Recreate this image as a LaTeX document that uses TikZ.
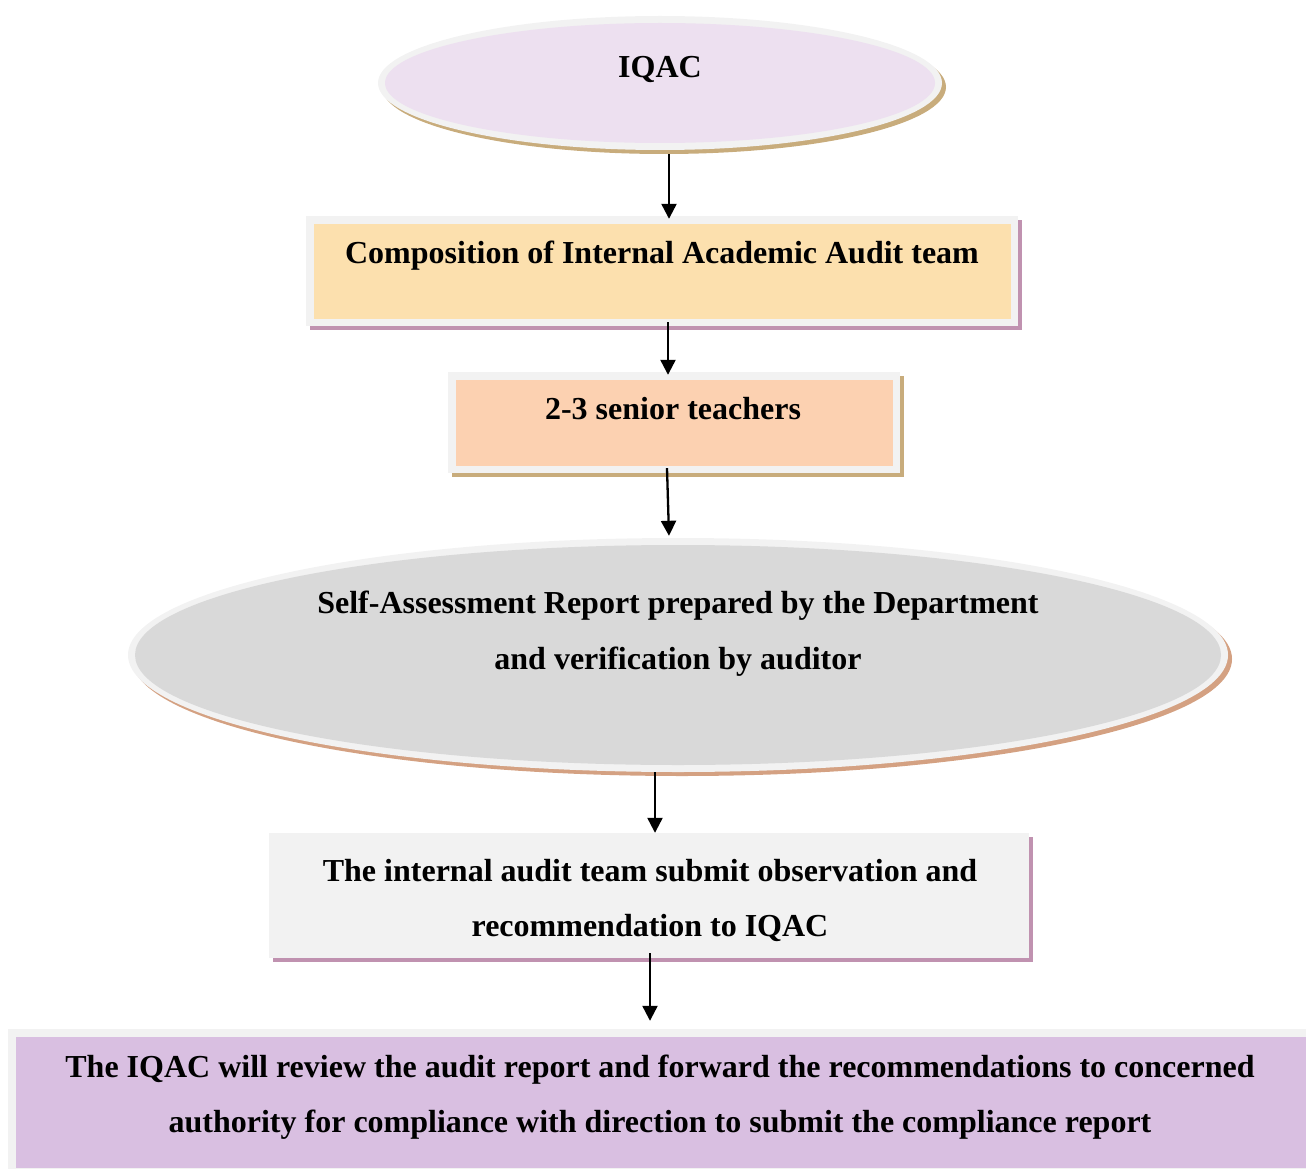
\documentclass[tikz,border=0pt]{standalone}
\usepackage{fontspec}
\setmainfont{Liberation Serif}
\usetikzlibrary{shapes.geometric,shadows,arrows.meta,calc}

\definecolor{rimgray}{HTML}{F2F2F2}
\definecolor{lilacfill}{HTML}{EDE0F0}
\definecolor{wheatfill}{HTML}{FCE0AE}
\definecolor{peachfill}{HTML}{FCD1B1}
\definecolor{greyfill}{HTML}{D9D9D9}
\definecolor{lavfill}{HTML}{D9BFE1}
\definecolor{tanshade}{HTML}{C8AC7C}
\definecolor{mauveshade}{HTML}{C092B0}
\definecolor{clayshade}{HTML}{D4A182}

\tikzset{
  shade under/.style={drop shadow={shadow xshift=4pt, shadow yshift=-4pt, fill=#1, opacity=1}},
  rimbox/.style 2 args={rectangle, draw=none, fill=rimgray, inner sep=0pt, shade under=#2,
    path picture={\fill[#1] ([shift={(7.5pt,-7.5pt)}]path picture bounding box.north west)
      rectangle ([shift={(-7.5pt,7.5pt)}]path picture bounding box.south east);}},
  rimoval/.style 2 args={ellipse, draw=none, fill=rimgray, inner sep=0pt, shade under=#2,
    path picture={\fill[#1] let \p1=($(path picture bounding box.north east)-(path picture bounding box.center)$)
      in (path picture bounding box.center) ellipse [x radius=\x1-7pt, y radius=\y1-7pt];}},
  caption/.style={font=\bfseries\fontsize{32}{55}\selectfont, anchor=base, inner sep=0pt},
  flow/.style={-{Triangle[length=15pt,width=15pt]}, line width=2.3pt, black}
}

\begin{document}
\begin{tikzpicture}[x=1pt,y=1pt]
  \useasboundingbox (0,0) rectangle (1306,-1169);
  \clip (0,0) rectangle (1306,-1169);

  % stages of the audit process
  \node[rimoval={lilacfill}{tanshade}, minimum width=564pt, minimum height=134pt] (iqac) at (660,-83) {};
  \node[rimbox={wheatfill}{mauveshade}, minimum width=712pt, minimum height=110pt] (comp) at (662,-271) {};
  \node[rimbox={peachfill}{tanshade}, minimum width=452pt, minimum height=101pt] (senior) at (674,-422.5) {};
  \node[rimoval={greyfill}{clayshade}, minimum width=1100pt, minimum height=234pt] (sar) at (678,-655) {};
  \node[rimbox={rimgray}{mauveshade}, minimum width=760pt, minimum height=125pt] (team) at (649,-895.5) {};
  \node[rimbox={lavfill}{rimgray}, minimum width=1306pt, minimum height=146pt] (review) at (661,-1102) {};

  % texts
  \node[caption] (iqac-t) at (660,-77.5) {IQAC};
  \node[caption] (comp-t) at (662,-263.5) {Composition of Internal Academic Audit team};
  \node[caption] (senior-t) at (673,-419.5) {2-3 senior teachers};
  \node[caption] (sar-t1) at (678,-613.5) {Self-Assessment Report prepared by the Department};
  \node[caption] (sar-t2) at (678,-669.5) {and verification by auditor};
  \node[caption] (team-t1) at (650,-881.5) {The internal audit team submit observation and};
  \node[caption] (team-t2) at (650,-936.5) {recommendation to IQAC};
  \node[caption] (review-t1) at (660,-1077.5) {The IQAC will review the audit report and forward the recommendations to concerned};
  \node[caption] (review-t2) at (660,-1132.5) {authority for compliance with direction to submit the compliance report};

  % connectors
  \draw[flow] ([xshift=9pt,yshift=-4pt]iqac.south) -- ([xshift=7pt,yshift=-3pt]comp.north);
  \draw[flow] ([xshift=6pt,yshift=4pt]comp.south) -- ([xshift=-6pt,yshift=-3pt]senior.north);
  \draw[flow] ([xshift=-7pt,yshift=5pt]senior.south) -- ([xshift=-9pt,yshift=2pt]sar.north);
  \draw[flow] ([xshift=-23pt]sar.south) -- ([xshift=6pt]team.north);
  \draw[flow] ([xshift=1pt,yshift=5pt]team.south) -- ([xshift=-11pt,yshift=8pt]review.north);
\end{tikzpicture}
\end{document}
